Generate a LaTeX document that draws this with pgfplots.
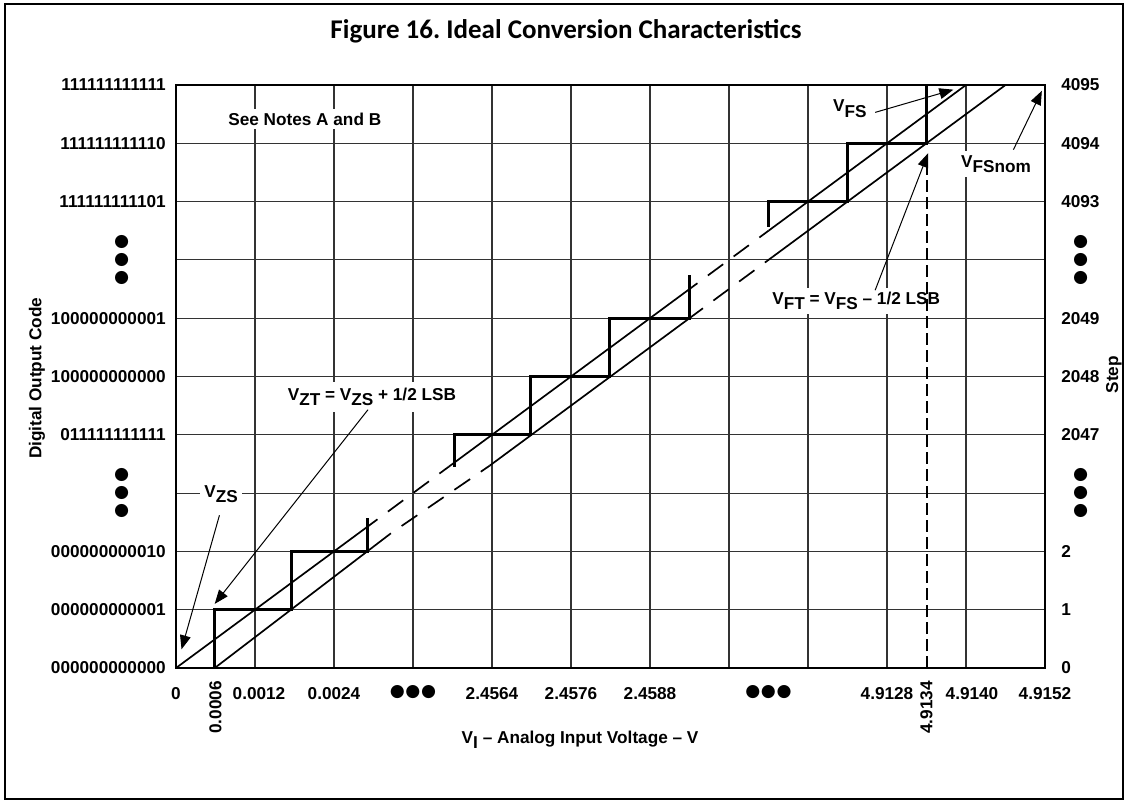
\documentclass[border=0pt]{standalone}
\usepackage{fontspec}
\setmainfont{Liberation Sans}
\newfontfamily\titlefont{Carlito}
\newfontfamily\symfont{DejaVu Sans}
\usepackage{graphicx}
\usepackage{pgfplots}
\pgfplotsset{compat=1.18}
\usetikzlibrary{arrows.meta}
\newcommand\lab{\fontsize{8.6}{10}\selectfont\bfseries}
\newcommand\sub[1]{\raisebox{-2.6pt}{#1}}
\newcommand\hbul{{\symfont ●\kern0.3pt●\kern0.3pt●}}
\newcommand\vbul{\rotatebox{90}{\symfont ●\kern1.5pt●\kern1.5pt●}}
\tikzset{arr/.style={line width=0.5pt, -{Triangle[length=7pt,width=5.4pt]}},
  lbl/.style={fill=white, inner sep=2pt, anchor=base, font=\lab}}
\begin{document}
\frenchspacing
\begin{tikzpicture}
\useasboundingbox (0pt,0pt) rectangle (564pt,401.5pt);
\draw[line width=1.2pt] (2.5pt,2pt) rectangle (561.5pt,399.5pt);
\node[anchor=base, font={\titlefont\bfseries\fontsize{13.5}{15}\selectfont}] at (283pt,382pt) {Figure 16. Ideal Conversion Characteristics};
\begin{axis}[
  at={(88pt,67.5pt)}, anchor=south west,
  scale only axis, width=434.5pt, height=291.5pt,
  xmin=0, xmax=11, ymin=0, ymax=10,
  clip=false,
  axis line style={line width=1pt},
  xtick={0,...,11}, ytick={0,...,10},
  xticklabels={0,\hspace*{4pt}0.0012,0.0024,,2.4564,2.4576,2.4588,,,4.9128,\hspace*{6pt}4.9140,4.9152},
  yticklabels={000000000000,000000000001,000000000010,{\makebox[44pt][c]{\vbul}},011111111111,100000000000,100000000001,{\makebox[44pt][c]{\vbul}},111111111101,111111111110,111111111111},
  grid=major, major grid style={line width=0.55pt, black!80},
  major tick length=0pt, tick style={draw=none},
  xticklabel style={font=\lab, yshift=-6pt},
  yticklabel style={font=\lab, xshift=-1.6pt},
  extra x ticks={0.5,9.5}, extra x tick labels={0.0006,4.9134},
  extra x tick style={grid=none, xticklabel style={yshift=3pt, rotate=90, anchor=east}},
  every axis x label/.style={at={(axis description cs:0.465,-0.130)}, anchor=base, font=\lab},
  every axis y label/.style={at={(axis description cs:-0.155,0.497)}, rotate=90, anchor=base, font=\lab},
  xlabel={V\sub{I} – Analog Input Voltage – V},
  ylabel={Digital Output Code},
]
% staircases (thick)
\addplot[line width=1.4pt] coordinates {(0.49,0) (0.49,1) (1.46,1) (1.46,2) (2.42,2) (2.42,2.57)};
\addplot[line width=1.4pt] coordinates {(3.53,3.45) (3.53,4) (4.49,4) (4.49,5) (5.49,5) (5.49,6) (6.5,6) (6.5,6.74)};
\addplot[line width=1.4pt] coordinates {(7.5,7.57) (7.5,8) (8.5,8) (8.5,9) (9.5,9) (9.5,10) (11,10)};
% ideal line through origin
\addplot[line width=0.85pt] coordinates {(0,0) (2.55,2.55)};
\addplot[line width=0.85pt, dash pattern=on 9.5pt off 6.5pt, dash phase=9.5pt] coordinates {(2.55,2.55) (3.45,3.45)};
\addplot[line width=0.85pt] coordinates {(3.45,3.45) (6.6,6.6)};
\addplot[line width=0.85pt, dash pattern=on 9.5pt off 6.5pt, dash phase=9.5pt] coordinates {(6.6,6.6) (7.5,7.5)};
\addplot[line width=0.85pt] coordinates {(7.5,7.5) (10,10)};
% shifted line
\addplot[line width=0.85pt] coordinates {(0.49,0) (2.72,2.31)};
\addplot[line width=0.85pt, dash pattern=on 9.5pt off 6.5pt, dash phase=9.5pt] coordinates {(2.72,2.31) (3.97,3.47)};
\addplot[line width=0.85pt] coordinates {(3.97,3.47) (6.67,6.17)};
\addplot[line width=0.85pt, dash pattern=on 9.5pt off 6.5pt, dash phase=9.5pt] coordinates {(6.67,6.17) (7.55,7.05)};
\addplot[line width=0.85pt] coordinates {(7.55,7.05) (10.5,10)};
% annotations
\node[font=\lab] at (axis cs:3,-0.41) {\hbul};
\node[font=\lab] at (axis cs:7.5,-0.41) {\hbul};
\node[lbl] at (axis cs:1.63,9.31) {See Notes A and B};
\node[lbl] at (axis cs:0.57,2.93) {V\sub{ZS}};
\node[lbl, inner ysep=3pt] at (axis cs:2.48,4.59) {V\sub{ZT} = V\sub{ZS} + 1/2 LSB};
\node[lbl] at (axis cs:8.53,9.54) {V\sub{FS}};
\node[lbl] at (axis cs:10.38,8.59) {V\sub{FSnom}};
\node[lbl] at (axis cs:8.61,6.23) {V\sub{FT} = V\sub{FS} – 1/2 LSB};
\draw[line width=1pt, dash pattern=on 6pt off 2.5pt] (axis cs:9.5,0) -- (axis cs:9.5,8.7);
\draw[arr] (axis cs:0.55,2.62) -- (axis cs:0.07,0.32);
\draw[arr] (axis cs:2.43,4.43) -- (axis cs:0.49,1.1);
\draw[arr] (axis cs:8.85,9.53) -- (axis cs:9.84,9.92);
\draw[arr] (axis cs:10.6,8.89) -- (axis cs:10.96,9.9);
\draw[arr] (axis cs:8.85,6.48) -- (axis cs:9.52,8.83);
\end{axis}
\begin{axis}[
  at={(88pt,67.5pt)}, anchor=south west,
  scale only axis, width=434.5pt, height=291.5pt,
  xmin=0, xmax=11, ymin=0, ymax=10,
  hide x axis, axis y line*=right, axis line style={draw=none},
  ytick={0,...,10},
  yticklabels={0,1,2,{\makebox[20pt][c]{\vbul}},2047,2048,2049,{\makebox[20pt][c]{\vbul}},4093,4094,4095},
  major tick length=0pt, ytick style={draw=none},
  yticklabel style={anchor=west, xshift=4.6pt, font=\lab},
  every axis y label/.style={at={(axis description cs:1.084,0.503)}, rotate=90, anchor=base, font=\lab},
  ylabel={Step},
]
\end{axis}
\end{tikzpicture}
\end{document}
